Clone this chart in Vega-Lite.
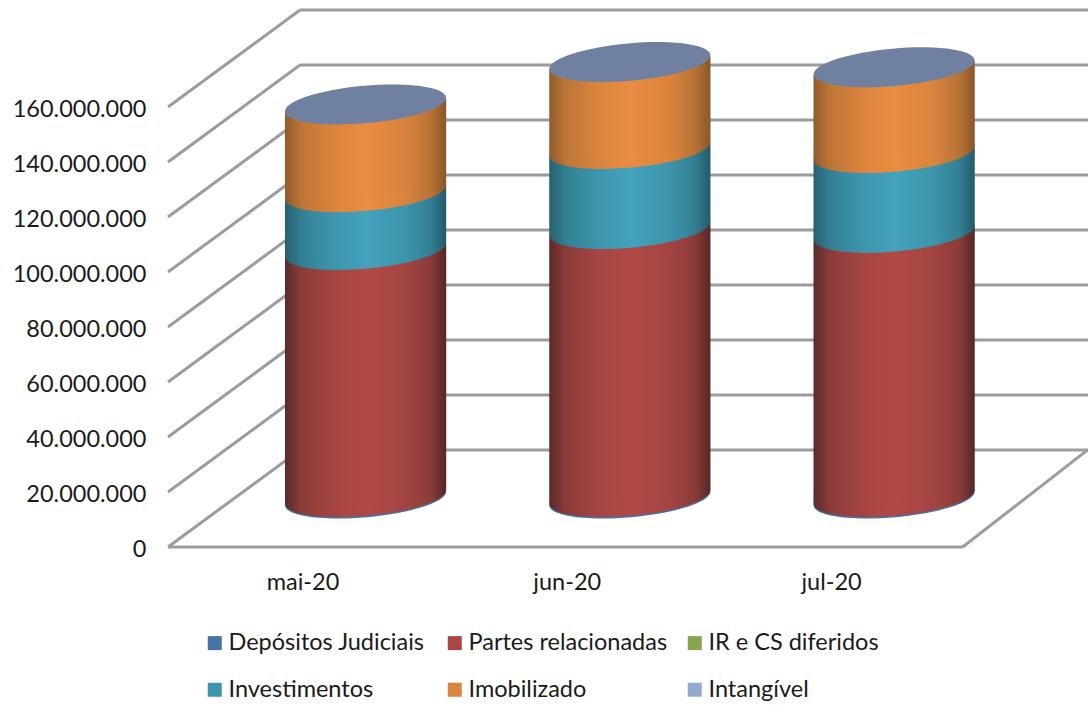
{"$schema":"https://vega.github.io/schema/vega-lite/v6.json","width":920,"height":547,"autosize":"none","padding":{"left":168,"top":0,"right":0,"bottom":159},"background":"white","config":{"view":{"stroke":null},"locale":{"number":{"decimal":",","thousands":".","grouping":[3],"currency":["R$ ",""]}}},"datasets":{"series":[{"mes":"mai-20","idx":0,"serie":"Depósitos Judiciais","ordem":1,"valor":500000},{"mes":"mai-20","idx":0,"serie":"Partes relacionadas","ordem":2,"valor":89900000},{"mes":"mai-20","idx":0,"serie":"IR e CS diferidos","ordem":3,"valor":0},{"mes":"mai-20","idx":0,"serie":"Investimentos","ordem":4,"valor":21000000},{"mes":"mai-20","idx":0,"serie":"Imobilizado","ordem":5,"valor":31800000},{"mes":"mai-20","idx":0,"serie":"Intangível","ordem":6,"valor":100000},{"mes":"jun-20","idx":1,"serie":"Depósitos Judiciais","ordem":1,"valor":500000},{"mes":"jun-20","idx":1,"serie":"Partes relacionadas","ordem":2,"valor":97500000},{"mes":"jun-20","idx":1,"serie":"IR e CS diferidos","ordem":3,"valor":0},{"mes":"jun-20","idx":1,"serie":"Investimentos","ordem":4,"valor":29100000},{"mes":"jun-20","idx":1,"serie":"Imobilizado","ordem":5,"valor":31500000},{"mes":"jun-20","idx":1,"serie":"Intangível","ordem":6,"valor":100000},{"mes":"jul-20","idx":2,"serie":"Depósitos Judiciais","ordem":1,"valor":500000},{"mes":"jul-20","idx":2,"serie":"Partes relacionadas","ordem":2,"valor":96100000},{"mes":"jul-20","idx":2,"serie":"IR e CS diferidos","ordem":3,"valor":0},{"mes":"jul-20","idx":2,"serie":"Investimentos","ordem":4,"valor":29000000},{"mes":"jul-20","idx":2,"serie":"Imobilizado","ordem":5,"valor":31100000},{"mes":"jul-20","idx":2,"serie":"Intangível","ordem":6,"valor":100000}],"grade":[{"nivel":0},{"nivel":20000000},{"nivel":40000000},{"nivel":60000000},{"nivel":80000000},{"nivel":100000000},{"nivel":120000000},{"nivel":140000000},{"nivel":160000000}]},"layer":[
{"data":{"name":"grade"},"mark":{"type":"rule","color":"#9c9c9c","strokeWidth":3,"yOffset":-97},"encoding":{"x":{"datum":-0.2482,"type":"quantitative","scale":{"domain":[-0.7476,2.7336],"nice":false,"zero":false},"axis":null},"x2":{"datum":2.7336},"y":{"field":"nivel","type":"quantitative","scale":{"domain":[0,198909091],"nice":false,"zero":true},"axis":{"values":[0,20000000,40000000,60000000,80000000,100000000,120000000,140000000,160000000],"format":",d","title":null,"domain":false,"ticks":false,"grid":false,"labelFont":"Lato","labelFontSize":23.5,"labelColor":"#1a1a1a","labelPadding":22,"labelOffset":2}}}},
{"data":{"name":"grade"},"mark":{"type":"rule","color":"#9c9c9c","strokeWidth":3,"x2Offset":132,"y2Offset":-97},"encoding":{"x":{"datum":-0.7476,"type":"quantitative"},"x2":{"datum":-0.7476},"y":{"field":"nivel","type":"quantitative"},"y2":{"field":"nivel"}}},
{"data":{"values":[{"nivel":0}]},"mark":{"type":"rule","color":"#9c9c9c","strokeWidth":3},"encoding":{"x":{"datum":-0.7476,"type":"quantitative"},"x2":{"datum":2.2592},"y":{"field":"nivel","type":"quantitative"}}},
{"data":{"values":[{"nivel":0}]},"mark":{"type":"rule","color":"#9c9c9c","strokeWidth":3,"y2Offset":-97,"x2Offset":125},"encoding":{"x":{"datum":2.2592,"type":"quantitative"},"x2":{"datum":2.2592},"y":{"field":"nivel","type":"quantitative"},"y2":{"field":"nivel"}}},
{"data":{"name":"series"},"transform":[{"filter":"datum.serie==='Depósitos Judiciais'"}],"mark":{"type":"point","filled":true,"opacity":1,"shape":"M-1,0A1,0.2316 0 1 1 1,0A1,0.2316 0 1 1 -1,0Z","size":26115,"angle":-5.14,"yOffset":-48.5,"color":"#4572a7"},"encoding":{"x":{"field":"idx","type":"quantitative"},"y":{"datum":0,"type":"quantitative"}}},
{"data":{"name":"series"},"transform":[{"stack":"valor","groupby":["mes"],"sort":[{"field":"ordem"}],"as":["v0","v1"]},{"filter":"datum.serie==='Partes relacionadas'"}],"mark":{"type":"point","filled":true,"opacity":1,"shape":"M-1,0A1,0.2316 0 1 1 1,0A1,0.2316 0 1 1 -1,0Z","size":26115,"angle":-5.14,"yOffset":-48.5,"color":{"gradient":"linear","x1":0,"y1":0,"x2":1,"y2":0,"stops":[{"offset":0,"color":"#5a2a2a"},{"offset":0.1,"color":"#8a3c3a"},{"offset":0.3,"color":"#a54543"},{"offset":0.5,"color":"#b14a47"},{"offset":0.75,"color":"#a24442"},{"offset":0.9,"color":"#8a3c3a"},{"offset":1,"color":"#552725"}]}},"encoding":{"x":{"field":"idx","type":"quantitative"},"y":{"field":"v0","type":"quantitative"}}},
{"data":{"name":"series"},"transform":[{"stack":"valor","groupby":["mes"],"sort":[{"field":"ordem"}],"as":["v0","v1"]},{"filter":"datum.serie==='Partes relacionadas'"},{"calculate":"[-1,1]","as":"lado"},{"flatten":["lado"]},{"calculate":"datum.idx+datum.lado*0.305","as":"xb"},{"calculate":"datum.v0+datum.lado*2490000","as":"b0"},{"calculate":"datum.v1+datum.lado*2490000","as":"b1"}],"mark":{"type":"area","yOffset":-48.5,"y2Offset":-48.5,"color":{"gradient":"linear","x1":0,"y1":0,"x2":1,"y2":0,"stops":[{"offset":0,"color":"#5a2a2a"},{"offset":0.1,"color":"#8a3c3a"},{"offset":0.3,"color":"#a54543"},{"offset":0.5,"color":"#b14a47"},{"offset":0.75,"color":"#a24442"},{"offset":0.9,"color":"#8a3c3a"},{"offset":1,"color":"#552725"}]}},"encoding":{"x":{"field":"xb","type":"quantitative"},"y":{"field":"b0","type":"quantitative"},"y2":{"field":"b1"},"detail":{"field":"mes"}}},
{"data":{"name":"series"},"transform":[{"stack":"valor","groupby":["mes"],"sort":[{"field":"ordem"}],"as":["v0","v1"]},{"filter":"datum.serie==='Investimentos'"}],"mark":{"type":"point","filled":true,"opacity":1,"shape":"M-1,0A1,0.2316 0 1 1 1,0A1,0.2316 0 1 1 -1,0Z","size":26115,"angle":-5.14,"yOffset":-48.5,"color":{"gradient":"linear","x1":0,"y1":0,"x2":1,"y2":0,"stops":[{"offset":0,"color":"#26606f"},{"offset":0.1,"color":"#337f93"},{"offset":0.3,"color":"#3d96ae"},{"offset":0.5,"color":"#43a2bd"},{"offset":0.75,"color":"#3c94ab"},{"offset":0.9,"color":"#337f93"},{"offset":1,"color":"#245a6a"}]}},"encoding":{"x":{"field":"idx","type":"quantitative"},"y":{"field":"v0","type":"quantitative"}}},
{"data":{"name":"series"},"transform":[{"stack":"valor","groupby":["mes"],"sort":[{"field":"ordem"}],"as":["v0","v1"]},{"filter":"datum.serie==='Investimentos'"},{"calculate":"[-1,1]","as":"lado"},{"flatten":["lado"]},{"calculate":"datum.idx+datum.lado*0.305","as":"xb"},{"calculate":"datum.v0+datum.lado*2490000","as":"b0"},{"calculate":"datum.v1+datum.lado*2490000","as":"b1"}],"mark":{"type":"area","yOffset":-48.5,"y2Offset":-48.5,"color":{"gradient":"linear","x1":0,"y1":0,"x2":1,"y2":0,"stops":[{"offset":0,"color":"#26606f"},{"offset":0.1,"color":"#337f93"},{"offset":0.3,"color":"#3d96ae"},{"offset":0.5,"color":"#43a2bd"},{"offset":0.75,"color":"#3c94ab"},{"offset":0.9,"color":"#337f93"},{"offset":1,"color":"#245a6a"}]}},"encoding":{"x":{"field":"xb","type":"quantitative"},"y":{"field":"b0","type":"quantitative"},"y2":{"field":"b1"},"detail":{"field":"mes"}}},
{"data":{"name":"series"},"transform":[{"stack":"valor","groupby":["mes"],"sort":[{"field":"ordem"}],"as":["v0","v1"]},{"filter":"datum.serie==='Imobilizado'"}],"mark":{"type":"point","filled":true,"opacity":1,"shape":"M-1,0A1,0.2316 0 1 1 1,0A1,0.2316 0 1 1 -1,0Z","size":26115,"angle":-5.14,"yOffset":-48.5,"color":{"gradient":"linear","x1":0,"y1":0,"x2":1,"y2":0,"stops":[{"offset":0,"color":"#915a2c"},{"offset":0.1,"color":"#bd7636"},{"offset":0.3,"color":"#db843d"},{"offset":0.5,"color":"#e98d42"},{"offset":0.75,"color":"#d9833d"},{"offset":0.9,"color":"#b97336"},{"offset":1,"color":"#8a5628"}]}},"encoding":{"x":{"field":"idx","type":"quantitative"},"y":{"field":"v0","type":"quantitative"}}},
{"data":{"name":"series"},"transform":[{"stack":"valor","groupby":["mes"],"sort":[{"field":"ordem"}],"as":["v0","v1"]},{"filter":"datum.serie==='Imobilizado'"},{"calculate":"[-1,1]","as":"lado"},{"flatten":["lado"]},{"calculate":"datum.idx+datum.lado*0.305","as":"xb"},{"calculate":"datum.v0+datum.lado*2490000","as":"b0"},{"calculate":"datum.v1+datum.lado*2490000","as":"b1"}],"mark":{"type":"area","yOffset":-48.5,"y2Offset":-48.5,"color":{"gradient":"linear","x1":0,"y1":0,"x2":1,"y2":0,"stops":[{"offset":0,"color":"#915a2c"},{"offset":0.1,"color":"#bd7636"},{"offset":0.3,"color":"#db843d"},{"offset":0.5,"color":"#e98d42"},{"offset":0.75,"color":"#d9833d"},{"offset":0.9,"color":"#b97336"},{"offset":1,"color":"#8a5628"}]}},"encoding":{"x":{"field":"xb","type":"quantitative"},"y":{"field":"b0","type":"quantitative"},"y2":{"field":"b1"},"detail":{"field":"mes"}}},
{"data":{"name":"series"},"transform":[{"stack":"valor","groupby":["mes"],"sort":[{"field":"ordem"}],"as":["v0","v1"]},{"filter":"datum.serie==='Intangível'"}],"mark":{"type":"point","filled":true,"opacity":1,"shape":"M-1,0A1,0.2316 0 1 1 1,0A1,0.2316 0 1 1 -1,0Z","size":26115,"angle":-5.14,"yOffset":-48.5,"color":"#7080a0"},"encoding":{"x":{"field":"idx","type":"quantitative"},"y":{"field":"v1","type":"quantitative"}}},
{"data":{"name":"series"},"transform":[{"filter":"datum.ordem===1"}],"mark":{"type":"text","font":"Lato","fontSize":23.5,"color":"#1a1a1a","xOffset":-62.6,"yOffset":36},"encoding":{"x":{"field":"idx","type":"quantitative"},"y":{"datum":0,"type":"quantitative"},"text":{"field":"mes"}}},
{"data":{"name":"series"},"mark":{"type":"point","filled":true,"shape":"square","opacity":0,"size":1},"encoding":{"x":{"field":"idx","type":"quantitative"},"y":{"datum":0,"type":"quantitative"},"color":{"field":"serie","type":"nominal","sort":["Depósitos Judiciais","Partes relacionadas","IR e CS diferidos","Investimentos","Imobilizado","Intangível"],"scale":{"domain":["Depósitos Judiciais","Partes relacionadas","IR e CS diferidos","Investimentos","Imobilizado","Intangível"],"range":["#4572a7","#aa4643","#89a54e","#3d96ae","#db843d","#93a9cf"]},"legend":{"orient":"none","legendX":35,"legendY":631,"direction":"horizontal","columns":3,"title":null,"symbolType":"square","symbolSize":196,"symbolOpacity":1,"symbolStrokeWidth":0,"labelFont":"Lato","labelFontSize":23.5,"labelOffset":2,"labelColor":"#1a1a1a","labelLimit":300,"rowPadding":22,"columnPadding":15,"gridAlign":"all"}}}}
]}
